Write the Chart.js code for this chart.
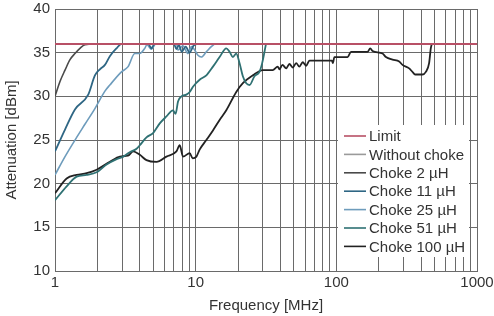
<!DOCTYPE html>
<html>
	<head>
		<style>
			body {
				margin: 0;
				background: #ffffff;
			}
		</style>
		<title>Attenuation vs Frequency</title>
	</head>
	<body>
		<canvas id="canvas1" width="494" height="316"></canvas>
		<script src="https://cdn.jsdelivr.net/npm/chart.js@4.4.0/dist/chart.umd.min.js"></script>
		<script>
			// frequency in MHz, attenuation in dBm
			var limitFreq = [1, 1000];
			var limitDbm = [36, 36];

			var withoutChokeFreq = [];
			var withoutChokeDbm = [];

			var choke2Freq = [1, 1.085, 1.178, 1.278, 1.386, 1.504, 1.632, 2];
			var choke2Dbm = [30, 31.7, 33.0, 34.2, 34.9, 35.5, 35.9, 36];

			var choke11Freq = [1, 1.178, 1.386, 1.723, 1.922, 2.085, 2.264, 2.455, 2.74, 2.97, 4.6, 4.85, 5.1, 7.0, 7.3, 7.6, 7.96, 8.5, 9.05, 9.66, 10.2];
			var choke11Dbm = [23.7, 26.2, 28.5, 30.2, 32.4, 33.1, 33.6, 34.6, 35.5, 36.0, 36.0, 35.5, 36.0, 36.0, 35.4, 35.9, 35.1, 35.7, 35.0, 35.8, 36.0];

			var choke25Freq = [1, 1.178, 1.425, 1.632, 1.922, 2.264, 2.455, 2.97, 3.31, 3.69, 4.0, 4.35, 4.5, 4.85, 5.2, 7.3, 7.5, 8.1, 8.82, 9.32, 9.84, 10.38, 10.97, 11.91, 12.92, 13.64];
			var choke25Dbm = [21.0, 23.1, 25.3, 26.8, 28.6, 30.6, 31.3, 32.8, 33.4, 34.9, 34.9, 35.5, 35.9, 35.4, 36.0, 36.0, 35.3, 35.8, 34.9, 35.7, 35.3, 34.7, 34.5, 35.1, 35.7, 36.0];

			var choke51Freq = [1, 1.21, 1.425, 1.678, 1.976, 2.326, 2.74, 3.05, 3.40, 3.80, 4.007, 4.47, 4.98, 5.555, 6.198, 6.90, 7.2, 7.49, 7.92, 8.59, 9.07, 9.57, 10.67, 11.91, 13.27, 14.80, 16.51, 17.42, 18.39, 19.44, 20.52, 21.65, 22.89, 24.15, 26.2, 28.4, 29.7, 31.7];
			var choke51Dbm = [18.1, 19.7, 20.8, 21.0, 21.3, 22.2, 22.8, 23.1, 23.6, 24.0, 24.4, 25.3, 25.8, 26.9, 27.7, 28.4, 28.0, 29.4, 30.0, 30.2, 30.5, 31.1, 31.9, 32.4, 33.4, 34.5, 35.5, 35.1, 34.5, 34.9, 33.8, 32.3, 31.5, 31.3, 32.3, 32.8, 33.8, 36.1];

			var choke100Freq = [1, 1.21, 1.425, 1.678, 1.976, 2.455, 2.891, 3.3, 3.592, 4.007, 4.47, 5.265, 6.198, 7.297, 7.70, 8.125, 9.07, 9.52, 10.12, 10.67, 11.91, 13.27, 14.80, 16.51, 19.44, 21.65, 25.5, 30.0, 35.3, 38.3, 39.4, 41.4, 44.0, 46.4, 49.0, 51.8, 54.6, 57.7, 61.0, 64.4, 93.0, 94.5, 96.8, 120.3, 127.2, 166.7, 174.2, 180.9, 213.0, 225.2, 250.8, 279.8, 295.3, 329.4, 347.6, 363.4, 409.4, 432.8, 456.6, 469.4, 477.2];
			var choke100Dbm = [18.9, 20.6, 21.0, 21.2, 21.6, 22.5, 23.1, 23.2, 23.7, 23.3, 22.7, 22.5, 23.1, 23.7, 24.4, 23.1, 23.5, 22.9, 23.1, 23.9, 25.0, 26.1, 27.3, 28.4, 30.5, 31.5, 32.4, 33.0, 33.0, 33.4, 33.1, 33.6, 33.2, 33.7, 33.3, 33.8, 33.4, 33.9, 33.5, 34.1, 34.1, 33.8, 34.5, 34.5, 35.1, 35.1, 35.5, 35.2, 34.9, 34.5, 34.2, 34.0, 33.6, 33.2, 32.8, 32.5, 32.5, 32.8, 33.8, 35.5, 36.0];

			var xGrid = [1, 2, 3, 4, 5, 6, 7, 8, 9, 10, 20, 30, 40, 50, 60, 70, 80, 90, 100, 200, 300, 400, 500, 600, 700, 800, 900, 1000];
			var xLabels = [1, 10, 100, 1000];

			var FONT = "'Liberation Sans', Arial, sans-serif";

			function pts(xs, ys) {
				var out = [];
				for (var i = 0; i < xs.length; i++) {
					out.push({x: xs[i], y: ys[i]});
				}
				return out;
			}

			function series(label, xs, ys, color, width) {
				return {
					label: label,
					data: pts(xs, ys),
					borderColor: color,
					backgroundColor: color,
					borderWidth: width,
					pointRadius: 0,
					fill: false,
					cubicInterpolationMode: 'monotone'
				};
			}

			var chartData = {
				datasets: [
					series("Limit", limitFreq, limitDbm, "#b85066", 2),
					series("Without choke", withoutChokeFreq, withoutChokeDbm, "#9a9a9a", 1.6),
					series("Choke 2 \u00b5H", choke2Freq, choke2Dbm, "#4a4a4a", 1.6),
					series("Choke 11 \u00b5H", choke11Freq, choke11Dbm, "#2e6684", 1.8),
					series("Choke 25 \u00b5H", choke25Freq, choke25Dbm, "#6e9cbc", 1.6),
					series("Choke 51 \u00b5H", choke51Freq, choke51Dbm, "#2f7173", 1.8),
					series("Choke 100 \u00b5H", choke100Freq, choke100Dbm, "#222222", 1.8)
				]
			};

			// legend box sitting inside the plot, lower right
			var boxLegend = {
				id: 'boxLegend',
				afterDatasetsDraw: function (chart) {
					var ctx = chart.ctx;
					var x0 = 338, y0 = 125, w = 131, h = 132;
					ctx.save();
					ctx.fillStyle = "#ffffff";
					ctx.fillRect(x0, y0, w, h);
					ctx.font = "15px " + FONT;
					ctx.textBaseline = "middle";
					ctx.textAlign = "left";
					chart.data.datasets.forEach(function (ds, i) {
						var y = y0 + 11 + i * 18.4;
						ctx.strokeStyle = ds.borderColor;
						ctx.lineWidth = 1.6;
						ctx.beginPath();
						ctx.moveTo(x0 + 6, y);
						ctx.lineTo(x0 + 28, y);
						ctx.stroke();
						ctx.fillStyle = "#333333";
						ctx.fillText(ds.label, x0 + 31, y + 1);
					});
					ctx.restore();
				}
			};

			var ctx1 = document.getElementById("canvas1").getContext("2d");
			var Chart1 = new Chart(ctx1, {
				type: "line",
				data: chartData,
				plugins: [boxLegend],
				options: {
					animation: false,
					responsive: false,
					layout: {
						padding: {left: 0, top: 9, right: 17, bottom: 0}
					},
					plugins: {
						legend: {display: false},
						tooltip: {enabled: false}
					},
					scales: {
						x: {
							type: "logarithmic",
							min: 1,
							max: 1000,
							afterBuildTicks: function (scale) {
								scale.ticks = xGrid.map(function (v) { return {value: v}; });
							},
							afterFit: function (scale) {
								scale.height = 45;
								scale.paddingLeft = 0;
								scale.paddingRight = 0;
							},
							grid: {
								color: "#6a6a6a",
								lineWidth: 1,
								drawTicks: false
							},
							border: {color: "#6a6a6a"},
							ticks: {
								autoSkip: false,
								maxRotation: 0,
								padding: 3,
								color: "#333333",
								font: {family: FONT, size: 15},
								callback: function (value) {
									return xLabels.indexOf(value) >= 0 ? String(value) : "";
								}
							},
							title: {
								display: true,
								text: "Frequency [MHz]",
								color: "#333333",
								font: {family: FONT, size: 15},
								padding: {top: 0, bottom: 1}
							}
						},
						y: {
							min: 10,
							max: 40,
							afterFit: function (scale) {
								scale.width = 55;
								scale.paddingTop = 0;
								scale.paddingBottom = 0;
							},
							grid: {
								color: "#6a6a6a",
								lineWidth: 1,
								drawTicks: false
							},
							border: {color: "#6a6a6a"},
							ticks: {
								stepSize: 5,
								padding: 5,
								color: "#333333",
								font: {family: FONT, size: 15}
							},
							title: {
								display: true,
								text: "Attenuation [dBm]",
								color: "#333333",
								font: {family: FONT, size: 15},
								padding: {top: 3, bottom: 0}
							}
						}
					}
				}
			});
		</script>
	</body>
</html>
